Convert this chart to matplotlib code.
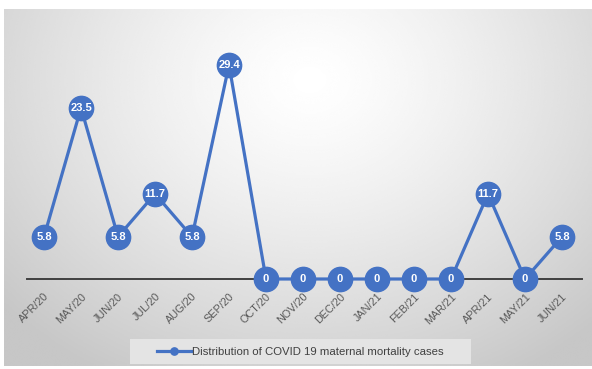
import numpy as np
import matplotlib
matplotlib.use("Agg")
import matplotlib.pyplot as plt
from matplotlib.patches import Rectangle

plt.rcParams["font.family"] = ["Liberation Sans Narrow", "Liberation Sans", "DejaVu Sans"]

months = ["APR/20", "MAY/20", "JUN/20", "JUL/20", "AUG/20", "SEP/20", "OCT/20",
          "NOV/20", "DEC/20", "JAN/21", "FEB/21", "MAR/21", "APR/21", "MAY/21", "JUN/21"]
mortality = [5.8, 23.5, 5.8, 11.7, 5.8, 29.4, 0, 0, 0, 0, 0, 0, 11.7, 0, 5.8]

series_name = "Distribution of COVID 19 maternal mortality cases"
blue = "#4472C4"

W, H = 592, 369
fig = plt.figure(figsize=(W / 100, H / 100), dpi=100)

# soft grey radial background panel, brightest near the top centre
bg = fig.add_axes([4 / W, 3 / H, 588 / W, 357 / H])
yy, xx = np.mgrid[0:1:300j, 0:1:500j]
r = np.sqrt(((xx - 0.52) / 0.7) ** 2 + ((yy - 0.8) / 0.95) ** 2)
shade = 1.0 - 0.22 * np.clip(r, 0, 1.0) ** 1.3
bg.imshow(shade, cmap="gray", vmin=0, vmax=1, aspect="auto", origin="lower",
          extent=[0, 1, 0, 1], interpolation="bicubic")
bg.axis("off")

ax = fig.add_axes([27 / W, (H - 279) / H, 555 / W, 239 / H])
ax.patch.set_alpha(0)
x = np.arange(len(months))
ax.plot(x, mortality, color=blue, lw=2.3, marker="o", ms=17.5,
        mec=blue, mfc=blue, clip_on=False, zorder=5, label=series_name)
for xi, v in zip(x, mortality):
    txt = "0" if v == 0 else f"{v:g}"
    ax.text(xi, v, txt, ha="center", va="center", color="white",
            fontsize=8, fontweight="bold", zorder=6)

ax.set_xlim(-0.46, len(months) - 1 + 0.54)
ax.set_ylim(0, 239 / 7.28)
for side in ["top", "right", "left"]:
    ax.spines[side].set_visible(False)
ax.spines["bottom"].set_color("#404040")
ax.spines["bottom"].set_linewidth(1.4)
ax.set_yticks([])
ax.set_xticks(x)
ax.set_xticklabels(months, rotation=45, ha="right", rotation_mode="anchor",
                   fontsize=7.8, color="#595959")
ax.tick_params(axis="x", length=0, pad=9)

# legend sits on its own light box
fig.patches.append(Rectangle((130 / W, 5 / H), 341 / W, 25 / H,
                             transform=fig.transFigure, facecolor="#e4e4e4",
                             edgecolor="none", zorder=1))
leg = fig.legend(loc="center", bbox_to_anchor=(300 / W, 1 - 352 / H),
                 fontsize=8.2, frameon=False, handlelength=3.0,
                 handletextpad=0.1, markerscale=0.3)
for t in leg.get_texts():
    t.set_color("#404040")

fig.savefig("out.png", dpi=100)
